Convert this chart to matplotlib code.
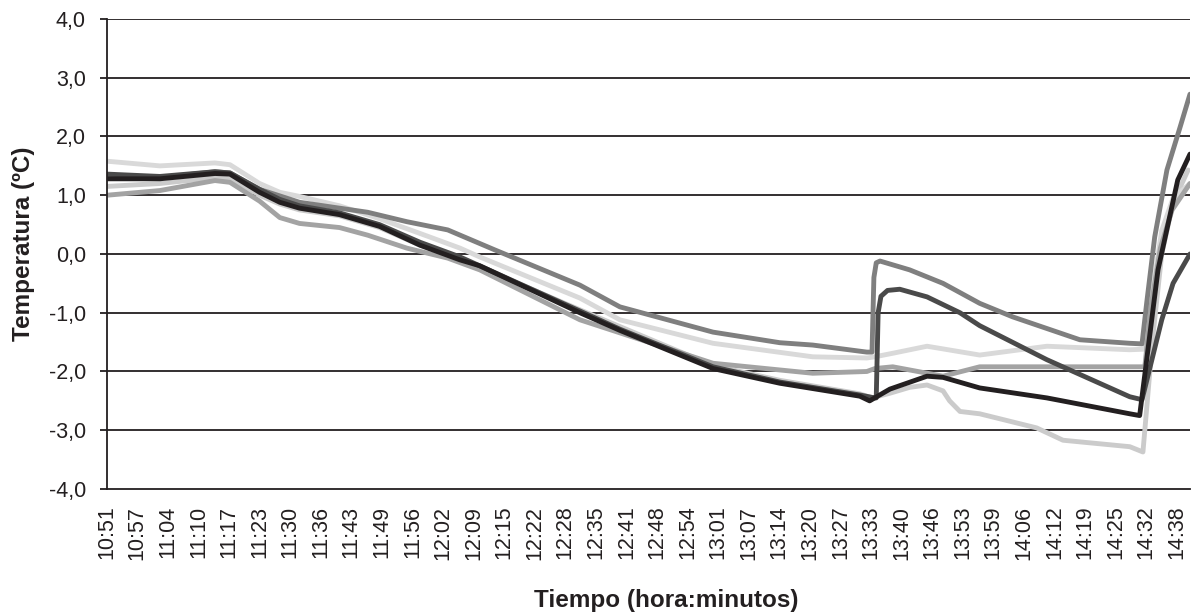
import numpy as np
import matplotlib
matplotlib.use("Agg")
import matplotlib.pyplot as plt
import matplotlib.transforms as mtransforms
from matplotlib.ticker import FuncFormatter

# time axis: minutes since 10:51, tick label every 6.5 min
tick_labels = ["10:51", "10:57", "11:04", "11:10", "11:17", "11:23", "11:30", "11:36",
               "11:43", "11:49", "11:56", "12:02", "12:09", "12:15", "12:22", "12:28",
               "12:35", "12:41", "12:48", "12:54", "13:01", "13:07", "13:14", "13:20",
               "13:27", "13:33", "13:40", "13:46", "13:53", "13:59", "14:06", "14:12",
               "14:19", "14:25", "14:32", "14:38"]
tick_step = 6.5
t_end = 230.3

# sensor readings (minutes, ºC)
vlight_t = [0, 11.3, 23, 26.2, 32.5, 36.8, 41, 49.5, 58, 66.6, 75.1, 100.6, 128.9, 143.1,
            160.1, 162.7, 166.5, 170.7, 174.4, 177.8, 179.2, 181.4, 185.6, 197.7, 203.3,
            217.5, 220.3, 222.4, 224.3, 226.7, 229.9]
vlight_v = [1.15, 1.2, 1.3, 1.3, 1.0, 0.85, 0.75, 0.65, 0.45, 0.15, -0.08, -0.95, -1.9, -2.15,
            -2.38, -2.45, -2.37, -2.27, -2.23, -2.33, -2.5, -2.68, -2.72, -2.96, -3.17,
            -3.28, -3.37, -1.41, 0.0, 0.87, 1.43]

light_t = [0, 11.3, 23, 26.2, 32.5, 36.8, 41, 49.5, 58, 66.6, 75.1, 79.3, 100.6, 109.1,
           128.9, 150.1, 161.6, 163.3, 167.1, 174.4, 185.6, 199.9, 217.5, 220.7, 222.4,
           224.3, 226.7, 230.3]
light_v = [1.58, 1.5, 1.55, 1.52, 1.2, 1.05, 0.98, 0.82, 0.6, 0.35, 0.1, -0.05, -0.75, -1.12,
           -1.52, -1.75, -1.77, -1.75, -1.69, -1.57, -1.72, -1.57, -1.63, -1.62, -0.6,
           0.4, 0.95, 1.2]

gray_t = [0, 11.3, 23, 26.2, 32.5, 36.8, 41, 49.5, 55.5, 63.8, 72.5, 79.3, 100.6, 128.9,
          150.1, 161.6, 163.3, 167.1, 177.8, 185.6, 217.5, 220.7, 222.0, 224.0, 226.5, 230.3]
gray_v = [1.0, 1.08, 1.25, 1.22, 0.9, 0.62, 0.52, 0.45, 0.32, 0.1, -0.07, -0.27, -1.12, -1.86,
          -2.03, -2.0, -1.95, -1.92, -2.08, -1.92, -1.92, -1.92, -0.9, 0.1, 0.75, 1.2]

mid_t = [0, 11.3, 23, 26.2, 32.5, 41, 49.5, 55.5, 63.8, 72.5, 82.5, 100.6, 109.1, 128.9,
         143.1, 150.1, 161.6, 162.7, 163.1, 163.6, 164.4, 170.7, 177.8, 185.6, 192.6, 206.9,
         217.5, 220.1, 221.1, 222.8, 225.4, 228.2, 230.3]
mid_v = [1.3, 1.3, 1.4, 1.38, 1.1, 0.88, 0.78, 0.71, 0.55, 0.41, 0.07, -0.53, -0.9, -1.33,
         -1.51, -1.55, -1.67, -1.67, -0.4, -0.15, -0.12, -0.27, -0.5, -0.84, -1.07, -1.46,
         -1.52, -1.53, -0.83, 0.29, 1.43, 2.16, 2.72]

dark_t = [0, 11.3, 23, 26.2, 32.5, 36.8, 41, 49.5, 58, 66.6, 75.1, 100.6, 109.1, 128.9,
          143.1, 160.1, 163.3, 163.6, 164.0, 164.6, 166.0, 168.6, 174.4, 181.4, 185.6,
          199.9, 217.5, 220.1, 224.3, 226.7, 230.3]
dark_v = [1.36, 1.32, 1.4, 1.38, 1.1, 0.93, 0.82, 0.7, 0.5, 0.2, -0.05, -0.97, -1.28, -1.92,
          -2.18, -2.4, -2.45, -2.45, -1.0, -0.72, -0.62, -0.6, -0.73, -1.0, -1.22,
          -1.8, -2.43, -2.48, -1.12, -0.5, 0.0]

black_t = [0, 11.3, 23, 26.2, 32.5, 36.8, 41, 49.5, 58, 66.6, 75.1, 79.3, 100.6, 109.1,
           128.9, 143.1, 160.1, 162.2, 163.9, 166.5, 174.4, 177.8, 185.6, 199.9, 217.5,
           219.6, 223.5, 227.7, 230.3]
black_v = [1.28, 1.28, 1.37, 1.36, 1.05, 0.88, 0.78, 0.67, 0.47, 0.15, -0.1, -0.2, -1.0, -1.3,
           -1.95, -2.2, -2.42, -2.5, -2.42, -2.3, -2.08, -2.1, -2.28, -2.45, -2.72,
           -2.75, -0.27, 1.26, 1.7]

series = [
    (vlight_t, vlight_v, "#cbcbcb"),
    (light_t, light_v, "#d9d9d9"),
    (gray_t, gray_v, "#a3a3a3"),
    (mid_t, mid_v, "#7f7f7f"),
    (dark_t, dark_v, "#4a4a4a"),
    (black_t, black_v, "#231f20"),
]

plt.rcParams["font.family"] = ["Liberation Sans", "DejaVu Sans"]
ink = "#231f20"

fig = plt.figure(figsize=(11.95, 6.13), dpi=100)
ax = fig.add_axes([0.0893, 0.2023, 0.9065, 0.7667])

for y in range(-3, 5):
    ax.axhline(y, color=ink, lw=1.3, zorder=1)

for t, v, c in series:
    ax.plot(t, v, color=c, lw=3.5, solid_joinstyle="round", solid_capstyle="round", zorder=2)

ax.set_xlim(0, t_end)
ax.set_ylim(-4, 4)
ax.set_yticks(range(-4, 5))
ax.yaxis.set_major_formatter(FuncFormatter(lambda v, p: f"{v:.1f}".replace(".", ",")))
ax.set_xticks([i * tick_step for i in range(len(tick_labels))])
ax.set_xticklabels(tick_labels, rotation=90)

# nudge the rotated time labels a little right, like the original
shift = mtransforms.ScaledTranslation(0.03, 0, fig.dpi_scale_trans)
for lab in ax.get_xticklabels():
    lab.set_transform(lab.get_transform() + shift)

for s in ["top", "right"]:
    ax.spines[s].set_visible(False)
for s in ["left", "bottom"]:
    ax.spines[s].set_color(ink)
    ax.spines[s].set_linewidth(1.3)

ax.tick_params(axis="y", direction="out", length=5, width=1.3, color=ink,
               labelsize=15.5, pad=10, labelcolor=ink)
ax.tick_params(axis="x", length=0, labelsize=15.5, pad=12, labelcolor=ink)

fig.text(24 / 1195, 1 - 244 / 613, "Temperatura (ºC)", rotation=90, ha="center", va="center",
         fontsize=17.5, fontweight="bold", color=ink)
fig.text(666 / 1195, 1 - 600 / 613, "Tiempo (hora:minutos)", ha="center", va="center",
         fontsize=17.5, fontweight="bold", color=ink)

fig.savefig("out.png", dpi=100)
